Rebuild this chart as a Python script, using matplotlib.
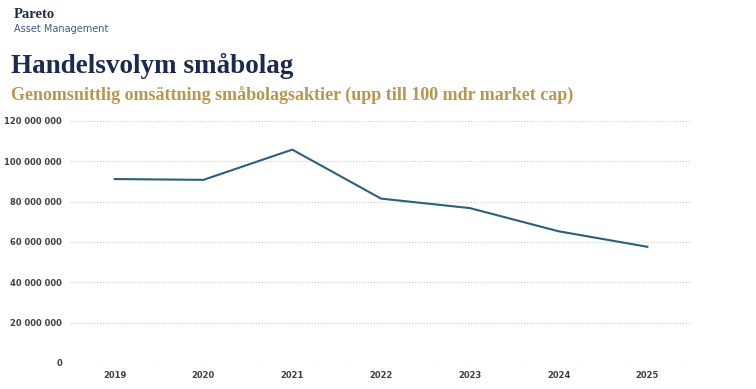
import matplotlib
matplotlib.use("Agg")
import matplotlib.pyplot as plt
from matplotlib.ticker import FuncFormatter

# data
years = ["2019", "2020", "2021", "2022", "2023", "2024", "2025"]
turnover = [91.2e6, 90.8e6, 105.8e6, 81.5e6, 76.8e6, 65.3e6, 57.6e6]
yticks = [0, 20e6, 40e6, 60e6, 80e6, 100e6, 120e6]

NAVY = "#1b2a4e"
GOLD = "#b8964e"
LINE = "#2c5f7c"

fig = plt.figure(figsize=(7.56, 3.89), dpi=100)
ax = fig.add_axes([0.093, 0.067, 0.822, 0.622])

x = range(len(years))
ax.plot(x, turnover, color=LINE, linewidth=1.5)
ax.set_xlim(-0.5, len(years) - 0.5)
ax.set_ylim(0, 120e6)
ax.set_xticks(list(x))
ax.set_xticklabels(years)
ax.set_yticks(yticks)
ax.yaxis.set_major_formatter(FuncFormatter(lambda v, p: f"{int(v):,}".replace(",", " ")))
ax.tick_params(length=0, labelsize=6, labelcolor="#404040", pad=6)
for lbl in ax.get_xticklabels() + ax.get_yticklabels():
    lbl.set_fontweight("bold")
ax.grid(axis="y", color="#c8c8c8", linestyle=":", linewidth=0.8)
for s in ax.spines.values():
    s.set_visible(False)

# header
fig.text(0.018, 0.962, "Pareto", fontsize=10.5, color=NAVY, family="Liberation Serif",
         fontweight="bold", va="center")
fig.text(0.018, 0.926, "Asset Management", fontsize=7, color="#3d5a80", va="center")
fig.text(0.015, 0.83, "Handelsvolym småbolag", fontsize=19.5, color=NAVY,
         family="Liberation Serif", fontweight="bold", va="center")
fig.text(0.015, 0.752, "Genomsnittlig omsättning småbolagsaktier (upp till 100 mdr market cap)",
         fontsize=13, color=GOLD, family="Liberation Serif", fontweight="bold", va="center")

fig.savefig("out.png", dpi=100)
